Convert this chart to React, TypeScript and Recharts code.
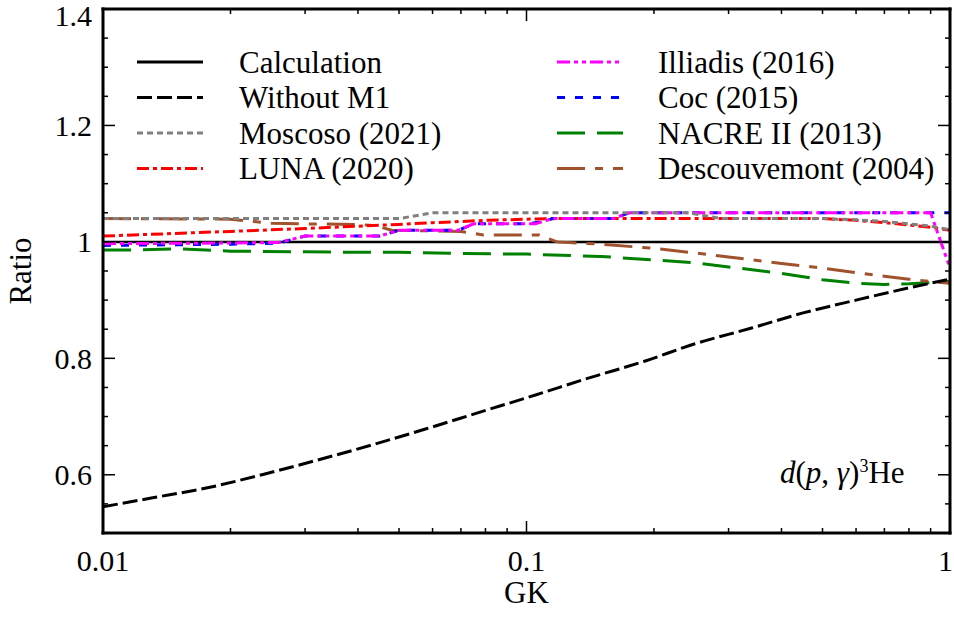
import { LineChart, Line, XAxis, YAxis, Legend, Label } from 'recharts';

const FONT = '"Liberation Serif", "Times New Roman", serif';

// x ticks (GK, log scale)
const xMajor = [0.01, 0.1, 1];
const xMinor = [0.02, 0.03, 0.04, 0.05, 0.06, 0.07, 0.08, 0.09, 0.2, 0.3, 0.4, 0.5, 0.6, 0.7, 0.8, 0.9];
// y ticks (Ratio)
const yMajor = [0.6, 0.8, 1, 1.2, 1.4];
const yMinor = [0.55, 0.65, 0.7, 0.75, 0.85, 0.9, 0.95, 1.05, 1.1, 1.15, 1.25, 1.3, 1.35];

const calcX = [0.01, 1];
const calcY = [1, 1];

const noM1X = [0.01, 0.013, 0.018, 0.024, 0.032, 0.043, 0.058, 0.078, 0.105, 0.14, 0.19, 0.25, 0.34, 0.45, 0.6, 0.8, 1];
const noM1Y = [0.545, 0.56, 0.579, 0.601, 0.625, 0.651, 0.679, 0.708, 0.737, 0.766, 0.795, 0.825, 0.852, 0.878, 0.9, 0.921, 0.936];

const moscosoX = [0.01, 0.05, 0.06, 0.24, 0.29, 0.5, 0.6, 0.7, 0.8, 0.9, 1];
const moscosoY = [1.04, 1.04, 1.05, 1.05, 1.04, 1.04, 1.038, 1.035, 1.031, 1.027, 1.021];

const lunaX = [0.01, 0.02, 0.03, 0.04, 0.05, 0.06, 0.07, 0.08, 0.1, 0.12, 0.5, 0.6, 0.7, 0.8, 0.9, 1];
const lunaY = [1.01, 1.018, 1.023, 1.027, 1.03, 1.033, 1.035, 1.037, 1.039, 1.04, 1.04, 1.037, 1.033, 1.029, 1.025, 1.02];

const illiadisX = [0.01, 0.02, 0.026, 0.03, 0.045, 0.05, 0.069, 0.075, 0.105, 0.115, 0.16, 0.175, 0.9, 1];
const illiadisY = [0.997, 0.998, 0.999, 1.01, 1.01, 1.02, 1.02, 1.031, 1.031, 1.04, 1.04, 1.05, 1.05, 0.955];

const cocX = [0.01, 0.02, 0.026, 0.03, 0.045, 0.05, 0.069, 0.075, 0.1, 0.11, 0.115, 0.16, 0.175, 1];
const cocY = [0.994, 0.996, 0.998, 1.01, 1.01, 1.02, 1.02, 1.031, 1.031, 1.035, 1.04, 1.04, 1.05, 1.05];

const nacreX = [0.01, 0.012, 0.015, 0.02, 0.03, 0.04, 0.05, 0.07, 0.1, 0.15, 0.2, 0.25, 0.3, 0.4, 0.5, 0.6, 0.7, 0.8, 0.9, 1];
const nacreY = [0.986, 0.986, 0.988, 0.984, 0.983, 0.982, 0.982, 0.98, 0.979, 0.975, 0.969, 0.964, 0.957, 0.946, 0.935, 0.929, 0.927, 0.928, 0.93, 0.932];

const descX = [0.01, 0.02, 0.025, 0.03, 0.04, 0.044, 0.048, 0.07, 0.079, 0.107, 0.118, 0.15, 0.2, 0.25, 0.3, 0.4, 0.5, 0.6, 0.7, 0.8, 0.9, 1];
const descY = [1.04, 1.039, 1.032, 1.031, 1.03, 1.028, 1.02, 1.018, 1.012, 1.012, 1.0, 0.996, 0.989, 0.981, 0.974, 0.963, 0.955, 0.947, 0.941, 0.936, 0.932, 0.929];

const pts = (xs: number[], ys: number[]) => xs.map((x, i) => ({ x, y: ys[i] }));

const series = [
  { name: 'Calculation', color: '#000000', dash: undefined, data: pts(calcX, calcY), z: 0, curve: 'linear' },
  { name: 'Without M1', color: '#000000', dash: '15 5', data: pts(noM1X, noM1Y), z: 7, curve: 'monotone' },
  { name: 'Moscoso (2021)', color: '#808080', dash: '6 4', data: pts(moscosoX, moscosoY), z: 6, curve: 'linear' },
  { name: 'LUNA (2020)', color: '#ff0000', dash: '12 4 4 4', data: pts(lunaX, lunaY), z: 3, curve: 'linear' },
  { name: 'Illiadis (2016)', color: '#ff00ff', dash: '13 4 4 4 4 4', data: pts(illiadisX, illiadisY), z: 5, curve: 'linear' },
  { name: 'Coc (2015)', color: '#0000ff', dash: '8 10', data: pts(cocX, cocY), z: 4, curve: 'linear' },
  { name: 'NACRE II (2013)', color: '#008000', dash: '28 12', data: pts(nacreX, nacreY), z: 1, curve: 'linear' },
  { name: 'Descouvemont (2004)', color: '#a0522d', dash: '28 10 8 10', data: pts(descX, descY), z: 2, curve: 'linear' },
];

// secondary axes (minor ticks, mirrored top/right frame) each need a series bound to them
const tickAxes = [
  { x: 'minorB', y: 'main' },
  { x: 'majorT', y: 'main' },
  { x: 'minorT', y: 'main' },
  { x: 'main', y: 'minorL' },
  { x: 'main', y: 'majorR' },
  { x: 'main', y: 'minorR' },
];

function LegendBox() {
  return (
    <svg width={954} height={200} style={{ display: 'block' }}>
      {series.map((s, i) => {
        const col = i < 4 ? 0 : 1;
        const y = 62 + (i % 4) * 35.5;
        const x0 = col === 0 ? 137 : 557;
        const tx = col === 0 ? 239 : 658;
        return (
          <g key={s.name}>
            <line x1={x0} x2={x0 + 66} y1={y} y2={y} stroke={s.color} strokeWidth={3} strokeDasharray={s.dash} />
            <text x={tx} y={y} dominantBaseline="central" fontSize={31} fontFamily={FONT} fill="#000">
              {s.name}
            </text>
          </g>
        );
      })}
    </svg>
  );
}

function XTick(props: any) {
  const { x, y, payload } = props;
  const v = payload.value;
  const last = v === 1;
  return (
    <text x={last ? x + 3 : x} y={y} dy="0.71em" textAnchor={last ? 'end' : 'middle'} fontSize={30} fontFamily={FONT} fill="#000">
      {String(v)}
    </text>
  );
}

function YTick(props: any) {
  const { x, y, payload } = props;
  return (
    <text x={x} y={Math.max(y, 15)} dy="0.35em" textAnchor="end" fontSize={30} fontFamily={FONT} fill="#000">
      {String(payload.value)}
    </text>
  );
}

const NoTick = () => <g />;

const thinTick = { stroke: '#000', strokeWidth: 1.5 };
const frame = { stroke: '#000', strokeWidth: 3, strokeLinecap: 'square' as const };

export default function App() {
  const drawOrder = [...series].sort((a, b) => a.z - b.z);
  const calcData = pts(calcX, calcY);
  return (
    <div style={{ position: 'absolute', left: 0, top: 0, width: 954, height: 621 }}>
      <LineChart width={954} height={621} margin={{ top: 7, right: 2, bottom: 86, left: 101 }}>
        <XAxis
          xAxisId="main"
          dataKey="x"
          type="number"
          scale="log"
          domain={[0.01, 1]}
          allowDataOverflow
          ticks={xMajor}
          interval={0}
          height={1}
          tickSize={-12}
          tickMargin={29}
          tick={XTick}
          tickLine={thinTick}
          axisLine={frame}
        >
          <Label value="GK" position="bottom" offset={47} fill="#000" fontSize={31} fontFamily={FONT} />
        </XAxis>
        <XAxis xAxisId="minorB" dataKey="x" type="number" scale="log" domain={[0.01, 1]} allowDataOverflow ticks={xMinor} interval={0} height={1} tickSize={-6} tick={NoTick} tickLine={thinTick} axisLine={false} />
        <XAxis xAxisId="majorT" dataKey="x" orientation="top" type="number" scale="log" domain={[0.01, 1]} allowDataOverflow ticks={xMajor} interval={0} height={1} tickSize={-12} tick={NoTick} tickLine={thinTick} axisLine={frame} />
        <XAxis xAxisId="minorT" dataKey="x" orientation="top" type="number" scale="log" domain={[0.01, 1]} allowDataOverflow ticks={xMinor} interval={0} height={1} tickSize={-6} tick={NoTick} tickLine={thinTick} axisLine={false} />

        <YAxis
          yAxisId="main"
          type="number"
          domain={[0.5, 1.4]}
          allowDataOverflow
          ticks={yMajor}
          interval={0}
          width={1}
          tickSize={-12}
          tickMargin={23}
          tick={YTick}
          tickLine={thinTick}
          axisLine={frame}
        >
          <Label
            content={(props: any) => {
              const vb = props.viewBox || {};
              const cx = (vb.x ?? 102) - 82;
              const cy = (vb.y ?? 9) + (vb.height ?? 524) / 2;
              return (
                <text x={cx} y={cy} transform={`rotate(-90, ${cx}, ${cy})`} textAnchor="middle" dominantBaseline="central" fontSize={31} fontFamily={FONT} fill="#000">
                  Ratio
                </text>
              );
            }}
          />
        </YAxis>
        <YAxis yAxisId="minorL" type="number" domain={[0.5, 1.4]} allowDataOverflow ticks={yMinor} interval={0} width={1} tickSize={-6} tick={NoTick} tickLine={thinTick} axisLine={false} />
        <YAxis yAxisId="majorR" orientation="right" type="number" domain={[0.5, 1.4]} allowDataOverflow ticks={yMajor} interval={0} width={1} tickSize={-12} tick={NoTick} tickLine={thinTick} axisLine={frame} />
        <YAxis yAxisId="minorR" orientation="right" type="number" domain={[0.5, 1.4]} allowDataOverflow ticks={yMinor} interval={0} width={1} tickSize={-6} tick={NoTick} tickLine={thinTick} axisLine={false} />

        {tickAxes.map((a) => (
          <Line
            key={`${a.x}-${a.y}`}
            xAxisId={a.x}
            yAxisId={a.y}
            data={calcData}
            dataKey="y"
            stroke="none"
            dot={false}
            activeDot={false}
            legendType="none"
            isAnimationActive={false}
          />
        ))}

        {drawOrder.map((s) => (
          <Line
            key={s.name}
            xAxisId="main"
            yAxisId="main"
            data={s.data}
            dataKey="y"
            name={s.name}
            type={s.curve as any}
            stroke={s.color}
            strokeWidth={s.name === 'Calculation' ? 2.5 : 3}
            strokeDasharray={s.dash}
            dot={false}
            activeDot={false}
            isAnimationActive={false}
          />
        ))}

        <Legend
          verticalAlign="middle"
          align="center"
          layout="horizontal"
          wrapperStyle={{ left: 0, top: 0, width: 954, height: 200 }}
          content={() => <LegendBox />}
        />
      </LineChart>
      <div
        style={{
          position: 'absolute',
          left: 780,
          top: 456,
          fontFamily: FONT,
          fontSize: 31,
          lineHeight: '34px',
          whiteSpace: 'nowrap',
          color: '#000',
        }}
      >
        <i>d</i>(<i>p</i>, <i>γ</i>)
        <span style={{ fontSize: 18, position: 'relative', top: -11 }}>3</span>He
      </div>
    </div>
  );
}
